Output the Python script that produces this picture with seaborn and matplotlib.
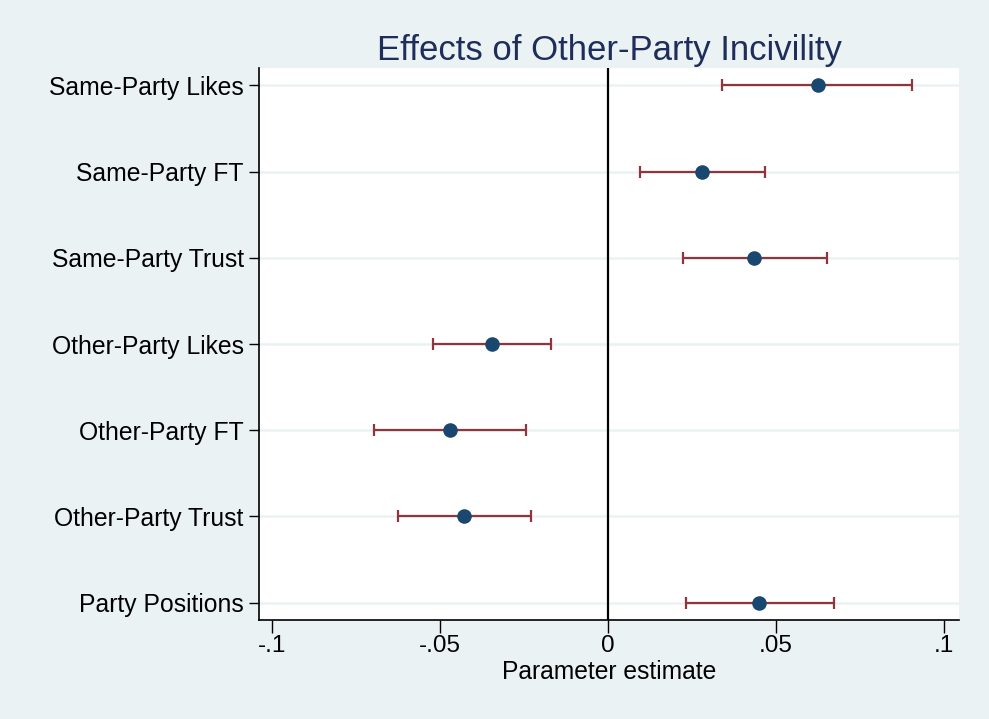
import pandas as pd
import matplotlib
matplotlib.use("Agg")
import matplotlib.pyplot as plt
import seaborn as sns

# values
labels = ["Same-Party Likes", "Same-Party FT", "Same-Party Trust",
          "Other-Party Likes", "Other-Party FT", "Other-Party Trust",
          "Party Positions"]
estimates = [0.0625, 0.0280, 0.0435, -0.0345, -0.0470, -0.0429, 0.0449]
ci_low = [0.0339, 0.0095, 0.0223, -0.0521, -0.0696, -0.0625, 0.0232]
ci_high = [0.0905, 0.0467, 0.0652, -0.0170, -0.0244, -0.0229, 0.0673]
xticks = [-0.1, -0.05, 0, 0.05, 0.1]
xticklabels = ["-.1", "-.05", "0", ".05", ".1"]

bg = "#EAF2F3"
navy = "#1A476F"
title_col = "#1F2D5A"
red = "#90353B"

df = pd.DataFrame({"label": labels, "est": estimates,
                   "lo": ci_low, "hi": ci_high})

sns.set_style("white")
plt.rcParams["font.family"] = ["Liberation Sans", "DejaVu Sans"]
plt.rcParams["text.color"] = "black"
plt.rcParams["xtick.color"] = "black"
plt.rcParams["ytick.color"] = "black"
plt.rcParams["axes.labelcolor"] = "black"

fig = plt.figure(figsize=(9.89, 7.19), dpi=100, facecolor=bg)
ax = fig.add_axes([0.2619, 0.1377, 0.7078, 0.7677])
ax.set_facecolor("white")

# horizontal grid lines at each category
for lab in df.label:
    ax.axhline(lab, color=bg, lw=1.8, zorder=0)

ax.axvline(0, color="black", lw=1.6, zorder=1)

ax.errorbar(df.est, df.label,
            xerr=[df.est - df.lo, df.hi - df.est],
            fmt="none", ecolor=red, elinewidth=1.6,
            capsize=4.5, capthick=1.6, zorder=2)
sns.scatterplot(data=df, x="est", y="label", color=navy, s=110,
                edgecolor=navy, linewidth=0, ax=ax, zorder=3)

ax.set_xlim(-0.1039, 0.1045)
ax.set_ylim(6.2, -0.2)
ax.set_xticks(xticks)
ax.set_xticklabels(xticklabels)
ax.tick_params(axis="x", length=9, width=1, labelsize=17.5, pad=2,
               direction="out", bottom=True)
ax.tick_params(axis="y", length=7, width=1, labelsize=17.8, pad=4,
               direction="out", left=True)

for side in ["top", "right"]:
    ax.spines[side].set_visible(False)
for side in ["left", "bottom"]:
    ax.spines[side].set_color("black")
    ax.spines[side].set_linewidth(1.2)

ax.set_xlabel("Parameter estimate", fontsize=17.7, labelpad=2)
ax.set_ylabel("")
ax.set_title("Effects of Other-Party Incivility", fontsize=25,
             color=title_col, pad=6)

fig.savefig("out.png", dpi=100, facecolor=bg)
